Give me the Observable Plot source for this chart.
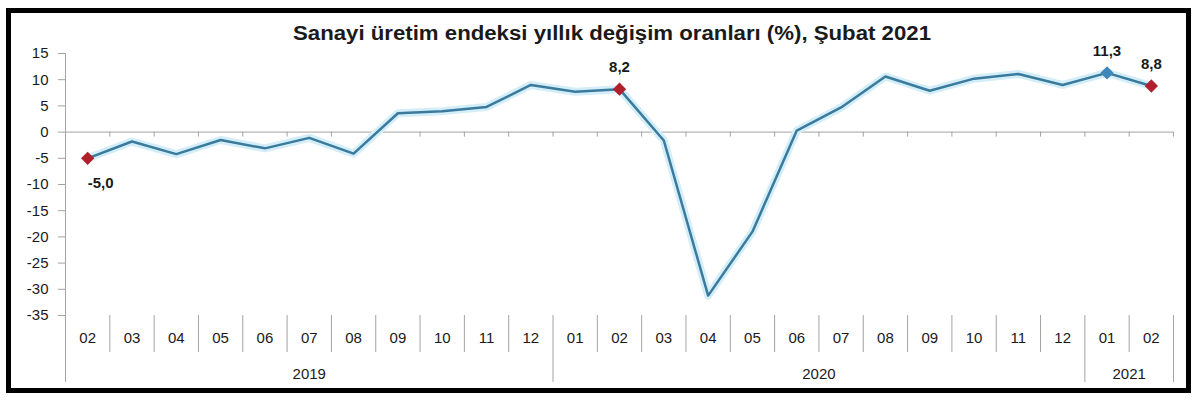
<!DOCTYPE html>
<html>
<head>
<meta charset="utf-8">
<script src="https://cdn.jsdelivr.net/npm/d3@7"></script>
<script src="https://cdn.jsdelivr.net/npm/@observablehq/plot@0.6"></script>
<style>
  body { margin: 0; background: #fff; }
  #wrap { position: relative; width: 1200px; height: 404px; overflow: hidden; font-family: "Liberation Sans", Arial, sans-serif; background: #fff; }
  #frame { position: absolute; left: 6px; top: 8px; width: 1175px; height: 375px; border: 5px solid #000; }
  #title { position: absolute; top: 23px; left: 293px; font-weight: bold; font-size: 20px; line-height: 20px; color: #1a1a1a; white-space: nowrap; transform-origin: 0 0; }
  #chart { position: absolute; left: 0; top: 0; }
</style>
</head>
<body>
<div id="wrap">
  <div id="frame"></div>
  <div id="chart"></div>
  <div id="title">Sanayi üretim endeksi yıllık değişim oranları (%), Şubat 2021</div>
</div>
<script>
// Months (x categories) and their years
const months = ["02","03","04","05","06","07","08","09","10","11","12",
                "01","02","03","04","05","06","07","08","09","10","11","12",
                "01","02"];
const years  = ["2019","2019","2019","2019","2019","2019","2019","2019","2019","2019","2019",
                "2020","2020","2020","2020","2020","2020","2020","2020","2020","2020","2020","2020",
                "2021","2021"];
// Annual change of industrial production index (%)
const values = [-5.0, -1.8, -4.2, -1.5, -3.1, -1.1, -4.1, 3.6, 4.0, 4.8, 9.0,
                 7.7, 8.2, -1.6, -31.2, -19.0, 0.3, 4.7, 10.6, 7.9, 10.2, 11.1, 9.0,
                 11.3, 8.8];
// Highlighted points
const highlightIdx   = [0, 12, 23, 24];
const highlightColor = ["#b21f2c", "#b21f2c", "#3d87ba", "#b21f2c"];
const labelBelow     = [true, false, false, false];
// Y axis ticks
const yTicks = [-35, -30, -25, -20, -15, -10, -5, 0, 5, 10, 15];

const n = values.length;
const data = values.map((v, i) => ({i, month: months[i], year: years[i], value: v}));
const hi = highlightIdx.map((k, j) => ({i: k, value: values[k], color: highlightColor[j], below: labelBelow[j]}));
const fmt = v => d3.format(".1f")(v).replace(".", ",").replace("−", "-");

const yMin = d3.min(yTicks), yMax = d3.max(yTicks);
const bounds = d3.range(n + 1).map(k => k - 0.5);
const isYearBound = b => b === -0.5 || b === n - 0.5 || years[b - 0.5] !== years[b + 0.5];
const monthSeps = bounds.filter(b => !isYearBound(b));
const yearSeps = bounds.filter(b => isYearBound(b) && b !== -0.5);
const yearGroups = d3.groups(data, d => d.year).map(([y, arr]) => ({year: y, x: d3.mean(arr, d => d.i)}));

const grey = "#a3a3a3";
const chart = Plot.plot({
  width: 1200,
  height: 404,
  marginLeft: 65,
  marginRight: 27,
  marginTop: 53,
  marginBottom: 89,
  style: {fontFamily: "'Liberation Sans', Arial, sans-serif", fontSize: "15px", background: "transparent", color: "#1a1a1a"},
  x: {domain: [-0.5, n - 0.5], axis: null},
  y: {domain: [yMin, yMax], axis: null},
  color: {type: "identity"},
  marks: [
    Plot.axisY({ticks: yTicks, tickSize: 7, tickPadding: 10, stroke: grey, fill: "#1a1a1a", tickFormat: d => String(d), fontSize: 15, label: null}),
    // y axis line extending down through the category axis
    Plot.ruleX([-0.5], {x: d => d, y1: yMax, y2: yMin, insetBottom: -67, stroke: grey}),
    // zero line with small ticks
    Plot.ruleY([0], {stroke: grey}),
    Plot.ruleX(bounds.slice(1), {x: d => d, y1: 0, y2: 0, insetBottom: -5, stroke: grey}),
    // month separators
    Plot.ruleX(monthSeps, {x: d => d, y1: yMin, y2: yMin, insetBottom: -37, stroke: grey}),
    // year separators
    Plot.ruleX(yearSeps, {x: d => d, y1: yMin, y2: yMin, insetBottom: -67, stroke: grey}),
    // month and year labels
    Plot.text(data, {x: "i", y: () => yMin, text: "month", dy: 23, fill: "#1a1a1a", fontSize: 15}),
    Plot.text(yearGroups, {x: "x", y: () => yMin, text: "year", dy: 59, fill: "#1a1a1a", fontSize: 15}),
    // line with glow
    Plot.line(data, {x: "i", y: "value", stroke: "#d3eef8", strokeWidth: 8, strokeLinejoin: "round"}),
    Plot.line(data, {x: "i", y: "value", stroke: "#3a7a9c", strokeWidth: 2.5, strokeLinejoin: "round"}),
    // highlighted markers
    Plot.dot(hi, {x: "i", y: "value", symbol: "diamond2", r: 6, fill: "color", stroke: "none"}),
    Plot.text(hi.filter(d => !d.below), {x: "i", y: "value", text: d => fmt(d.value), dy: -22, fill: "#1a1a1a", fontWeight: "bold", fontSize: 15}),
    Plot.text(hi.filter(d => d.below), {x: "i", y: "value", text: d => fmt(d.value), dy: 25, dx: 13, fill: "#1a1a1a", fontWeight: "bold", fontSize: 15})
  ]
});
document.getElementById("chart").appendChild(chart);

// fit title to reference width
const t = document.getElementById("title");
const w = t.getBoundingClientRect().width;
t.style.transform = `scaleX(${638 / w})`;
</script>
</body>
</html>
